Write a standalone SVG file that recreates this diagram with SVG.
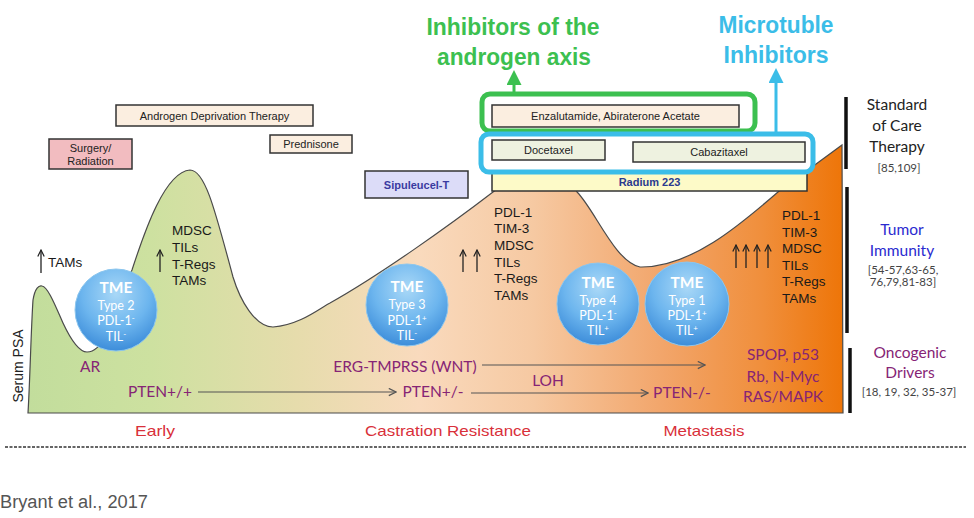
<svg xmlns="http://www.w3.org/2000/svg" width="974" height="518" viewBox="0 0 974 518">
<defs>
  <linearGradient id="bg" gradientUnits="userSpaceOnUse" x1="28" y1="0" x2="843" y2="0">
    <stop offset="0" stop-color="#c2dd9c"/>
    <stop offset="0.15" stop-color="#cde1a0"/>
    <stop offset="0.33" stop-color="#e6dcac"/>
    <stop offset="0.48" stop-color="#f9dabd"/>
    <stop offset="0.62" stop-color="#f6c9a2"/>
    <stop offset="0.78" stop-color="#f2a56a"/>
    <stop offset="0.9" stop-color="#f08f3c"/>
    <stop offset="1" stop-color="#ee7508"/>
  </linearGradient>
  <radialGradient id="tme" cx="0.5" cy="0.3" r="0.75">
    <stop offset="0" stop-color="#a9d8f7"/>
    <stop offset="0.55" stop-color="#6cb5ee"/>
    <stop offset="1" stop-color="#3586d6"/>
  </radialGradient>
  <marker id="chev" viewBox="0 0 10 10" refX="9" refY="5" markerWidth="9" markerHeight="9" markerUnits="userSpaceOnUse" orient="auto">
    <path d="M1,1 L9,5 L1,9" fill="none" stroke="#555" stroke-width="1.4"/>
  </marker>
  <marker id="up" viewBox="0 0 10 10" refX="9" refY="5" markerWidth="8" markerHeight="8" markerUnits="userSpaceOnUse" orient="auto">
    <path d="M1,1 L9,5 L1,9" fill="none" stroke="#222" stroke-width="1.5"/>
  </marker>
  <marker id="gtri" viewBox="0 0 10 10" refX="2" refY="5" markerWidth="5" markerHeight="5" orient="auto">
    <path d="M0,0 L10,5 L0,10 Z" fill="#3cc050"/>
  </marker>
  <marker id="btri" viewBox="0 0 10 10" refX="2" refY="5" markerWidth="5" markerHeight="5" orient="auto">
    <path d="M0,0 L10,5 L0,10 Z" fill="#3bbde8"/>
  </marker>
</defs>
<style>
  .box { stroke: #333; stroke-width: 1.5; }
  .bt { font-family: "Liberation Sans", Arial, sans-serif; font-size: 11px; fill: #222; text-anchor: middle; }
  .list { font-family: "Liberation Sans", Arial, sans-serif; font-size: 13.5px; fill: #1a1a1a; }
  .pur { font-family: Lato, "Open Sans", sans-serif; font-size: 15.5px; fill: #862475; }
  .tme1 { font-family: Lato, "Open Sans", sans-serif; font-size: 15.5px; font-weight: bold; fill: #fff; text-anchor: middle; }
  .tme2 { font-family: Lato, "Open Sans", sans-serif; font-size: 12.5px; fill: #fff; text-anchor: middle; }
  .rl { font-family: Lato, "Open Sans", sans-serif; font-size: 15.5px; text-anchor: middle; }
  .ref { font-family: Lato, "Open Sans", sans-serif; font-size: 11.5px; fill: #444; text-anchor: middle; }
  .phase { font-family: "Liberation Sans", Arial, sans-serif; font-size: 15px; fill: #d9303a; text-anchor: middle; }
  .big { font-family: "Liberation Sans", Arial, sans-serif; font-size: 24px; font-weight: bold; text-anchor: middle; }
  .bar { stroke: #111; stroke-width: 3.5; }
  .uparr { stroke: #222; stroke-width: 1.3; fill: none; }
</style>
<rect width="974" height="518" fill="#fff"/>

<g id="psa-area">
  <path d="M28,413 C30,380 31,330 33,300 C35,288 39,285 42,286 C48,287 55,305 63,323 C70,338 78,352 87,352 C95,352 100,345 105,338 L125,285 L132,270 C145,230 165,172 190,170 C205,170 215,210 233,277 C240,300 255,327 273,327 C300,325 320,308 330,303 C380,275 450,225 493,192 L510,180 L570,180 L577,192 C595,210 615,262 640,267 C690,268 740,225 778,192 L842,145 L843,413 Z" fill="url(#bg)" stroke="#4a4a4a" stroke-width="1.2"/>
</g>

<g id="title-androgen">
  <text class="big" fill="#3cc050" x="513" y="35" textLength="173" lengthAdjust="spacingAndGlyphs">Inhibitors of the</text>
  <text class="big" fill="#3cc050" x="514" y="65" textLength="154" lengthAdjust="spacingAndGlyphs">androgen axis</text>
</g>
<g id="title-microtuble">
  <text class="big" fill="#3bbde8" x="776" y="33" textLength="115" lengthAdjust="spacingAndGlyphs">Microtuble</text>
  <text class="big" fill="#3bbde8" x="776" y="63" textLength="105" lengthAdjust="spacingAndGlyphs">Inhibitors</text>
</g>

<g id="adt">
  <rect class="box" x="116" y="105" width="197" height="21" fill="#fbeee0"/>
  <text class="bt" x="214.5" y="119.5">Androgen Deprivation Therapy</text>
</g>
<g id="surgery">
  <rect class="box" x="49" y="139" width="83" height="30" fill="#f2bcc0"/>
  <text class="bt" x="90.5" y="152">Surgery/</text>
  <text class="bt" x="90.5" y="165">Radiation</text>
</g>
<g id="prednisone">
  <rect class="box" x="270" y="135" width="82" height="18" fill="#fbeee0"/>
  <text class="bt" x="311" y="148">Prednisone</text>
</g>
<g id="sipuleucel">
  <rect class="box" x="365" y="171" width="103" height="27" fill="#dcdcf8"/>
  <text class="bt" x="416.5" y="188.5" font-weight="bold" style="fill:#3a3aa0">Sipuleucel-T</text>
</g>

<g id="radium">
  <rect class="box" x="492" y="173" width="315" height="18" fill="#fdfac8" stroke-width="1.2"/>
  <text class="bt" x="649.5" y="186" font-weight="bold" style="fill:#2b3a8f">Radium 223</text>
</g>
<g id="androgen-group">
  <rect x="482" y="94" width="273" height="37" rx="8" fill="none" stroke="#3cc050" stroke-width="5"/>
  <rect class="box" x="492" y="105" width="247" height="22" fill="#fbeee0" stroke-width="1.2"/>
  <text class="bt" x="615.5" y="120">Enzalutamide, Abiraterone Acetate</text>
</g>
<g id="microtuble-group">
  <rect x="481" y="134" width="332" height="38" rx="8" fill="none" stroke="#3bbde8" stroke-width="5"/>
  <rect class="box" x="492" y="140" width="113" height="20" fill="#eef2e0" stroke-width="1.2"/>
  <text class="bt" x="548.5" y="154">Docetaxel</text>
  <rect class="box" x="633" y="142" width="172" height="20" fill="#eef2e0" stroke-width="1.2"/>
  <text class="bt" x="719" y="156">Cabazitaxel</text>
</g>

<g id="tme2">
  <circle cx="116" cy="310" r="41" fill="url(#tme)" stroke="#8cc6ee" stroke-width="1"/>
  <text class="tme1" x="116" y="293">TME</text>
  <text class="tme2" x="116" y="310">Type 2</text>
  <text class="tme2" x="116" y="325">PDL-1<tspan dy="-4" font-size="8">-</tspan></text>
  <text class="tme2" x="116" y="341">TIL<tspan dy="-4" font-size="8">-</tspan></text>
</g>
<g id="tme3">
  <circle cx="407" cy="305" r="41" fill="url(#tme)" stroke="#8cc6ee" stroke-width="1"/>
  <text class="tme1" x="407" y="292">TME</text>
  <text class="tme2" x="407" y="309">Type 3</text>
  <text class="tme2" x="407" y="325">PDL-1<tspan dy="-4" font-size="8">+</tspan></text>
  <text class="tme2" x="407" y="340">TIL<tspan dy="-4" font-size="8">-</tspan></text>
</g>
<g id="tme4">
  <circle cx="598" cy="304" r="41" fill="url(#tme)" stroke="#8cc6ee" stroke-width="1"/>
  <text class="tme1" x="598" y="288">TME</text>
  <text class="tme2" x="598" y="305">Type 4</text>
  <text class="tme2" x="598" y="320">PDL-1<tspan dy="-4" font-size="8">-</tspan></text>
  <text class="tme2" x="598" y="335">TIL<tspan dy="-4" font-size="8">+</tspan></text>
</g>
<g id="tme1">
  <circle cx="687" cy="304" r="42" fill="url(#tme)" stroke="#8cc6ee" stroke-width="1"/>
  <text class="tme1" x="687" y="288">TME</text>
  <text class="tme2" x="687" y="305">Type 1</text>
  <text class="tme2" x="687" y="320">PDL-1<tspan dy="-4" font-size="8">+</tspan></text>
  <text class="tme2" x="687" y="335">TIL<tspan dy="-4" font-size="8">+</tspan></text>
</g>

<g id="immune-early">
  <line class="uparr" x1="41" y1="273" x2="41" y2="250" marker-end="url(#up)"/>
  <text class="list" x="48" y="267">TAMs</text>
  <line class="uparr" x1="160" y1="272" x2="160" y2="250" marker-end="url(#up)"/>
  <text class="list" x="172" y="235">MDSC</text>
  <text class="list" x="172" y="252">TILs</text>
  <text class="list" x="172" y="269">T-Regs</text>
  <text class="list" x="172" y="285">TAMs</text>
</g>
<g id="immune-crpc">
  <line class="uparr" x1="463" y1="272" x2="463" y2="250" marker-end="url(#up)"/>
  <line class="uparr" x1="477" y1="272" x2="477" y2="250" marker-end="url(#up)"/>
  <text class="list" x="494" y="217">PDL-1</text>
  <text class="list" x="494" y="233">TIM-3</text>
  <text class="list" x="494" y="250">MDSC</text>
  <text class="list" x="494" y="267">TILs</text>
  <text class="list" x="494" y="283">T-Regs</text>
  <text class="list" x="494" y="300">TAMs</text>
</g>
<g id="immune-met">
  <line class="uparr" x1="736" y1="268" x2="736" y2="245" marker-end="url(#up)"/>
  <line class="uparr" x1="746" y1="268" x2="746" y2="245" marker-end="url(#up)"/>
  <line class="uparr" x1="757" y1="268" x2="757" y2="245" marker-end="url(#up)"/>
  <line class="uparr" x1="768" y1="268" x2="768" y2="245" marker-end="url(#up)"/>
  <text class="list" x="782" y="220">PDL-1</text>
  <text class="list" x="782" y="237">TIM-3</text>
  <text class="list" x="782" y="253">MDSC</text>
  <text class="list" x="782" y="270">TILs</text>
  <text class="list" x="782" y="286">T-Regs</text>
  <text class="list" x="782" y="303">TAMs</text>
</g>

<g id="drivers">
  <text class="pur" x="90" y="372" text-anchor="middle">AR</text>
  <text class="pur" x="160" y="397" text-anchor="middle">PTEN+/+</text>
  <text class="pur" x="405" y="372" text-anchor="middle">ERG-TMPRSS (WNT)</text>
  <text class="pur" x="548" y="386" text-anchor="middle">LOH</text>
  <text class="pur" x="433" y="397" text-anchor="middle">PTEN+/-</text>
  <text class="pur" x="682" y="398" text-anchor="middle">PTEN-/-</text>
  <text class="pur" x="783" y="360" text-anchor="middle">SPOP, p53</text>
  <text class="pur" x="783" y="382" text-anchor="middle">Rb, N-Myc</text>
  <text class="pur" x="783" y="402" text-anchor="middle">RAS/MAPK</text>
</g>

<g id="connectors" fill="none">
  <line x1="198" y1="392" x2="396" y2="392" stroke="#555" stroke-width="1.2" marker-end="url(#chev)"/>
  <line x1="482" y1="365" x2="705" y2="365" stroke="#555" stroke-width="1.2" marker-end="url(#chev)"/>
  <line x1="471" y1="393" x2="648" y2="393" stroke="#555" stroke-width="1.2" marker-end="url(#chev)"/>
  <line x1="514" y1="94" x2="514" y2="82" stroke="#3cc050" stroke-width="3" marker-end="url(#gtri)"/>
  <line x1="776" y1="134" x2="776" y2="80" stroke="#3bbde8" stroke-width="3" marker-end="url(#btri)"/>
</g>

<g id="side-labels">
  <line class="bar" x1="846" y1="97" x2="846" y2="169"/>
  <line class="bar" x1="847" y1="187" x2="847" y2="333"/>
  <line class="bar" x1="850" y1="348" x2="850" y2="413"/>
  <text class="rl" x="897" y="110" fill="#222">Standard</text>
  <text class="rl" x="897" y="131" fill="#222">of Care</text>
  <text class="rl" x="897" y="152" fill="#222">Therapy</text>
  <text class="ref" x="899" y="172">[85,109]</text>
  <text class="rl" x="902" y="235" fill="#2a2ad0">Tumor</text>
  <text class="rl" x="902" y="256" fill="#2a2ad0">Immunity</text>
  <text class="ref" x="903" y="274">[54-57,63-65,</text>
  <text class="ref" x="903" y="286">76,79,81-83]</text>
  <text class="rl" x="910" y="358" fill="#862475">Oncogenic</text>
  <text class="rl" x="910" y="378" fill="#862475">Drivers</text>
  <text class="ref" x="909" y="396">[18, 19, 32, 35-37]</text>
</g>

<g id="axis">
  <text font-family="Liberation Sans, Arial, sans-serif" font-size="14" fill="#222" text-anchor="middle" transform="translate(23,366) rotate(-90)">Serum PSA</text>
  <text class="phase" x="155" y="436" textLength="40" lengthAdjust="spacingAndGlyphs">Early</text>
  <text class="phase" x="448" y="436" textLength="166" lengthAdjust="spacingAndGlyphs">Castration Resistance</text>
  <text class="phase" x="704" y="436" textLength="81" lengthAdjust="spacingAndGlyphs">Metastasis</text>
  <line x1="5" y1="447" x2="966" y2="447" stroke="#333" stroke-width="1.5" stroke-dasharray="3 1.5"/>
  <text font-family="Liberation Sans, Arial, sans-serif" font-size="18" fill="#555" x="0" y="508" textLength="148" lengthAdjust="spacingAndGlyphs">Bryant et al., 2017</text>
</g>
</svg>
